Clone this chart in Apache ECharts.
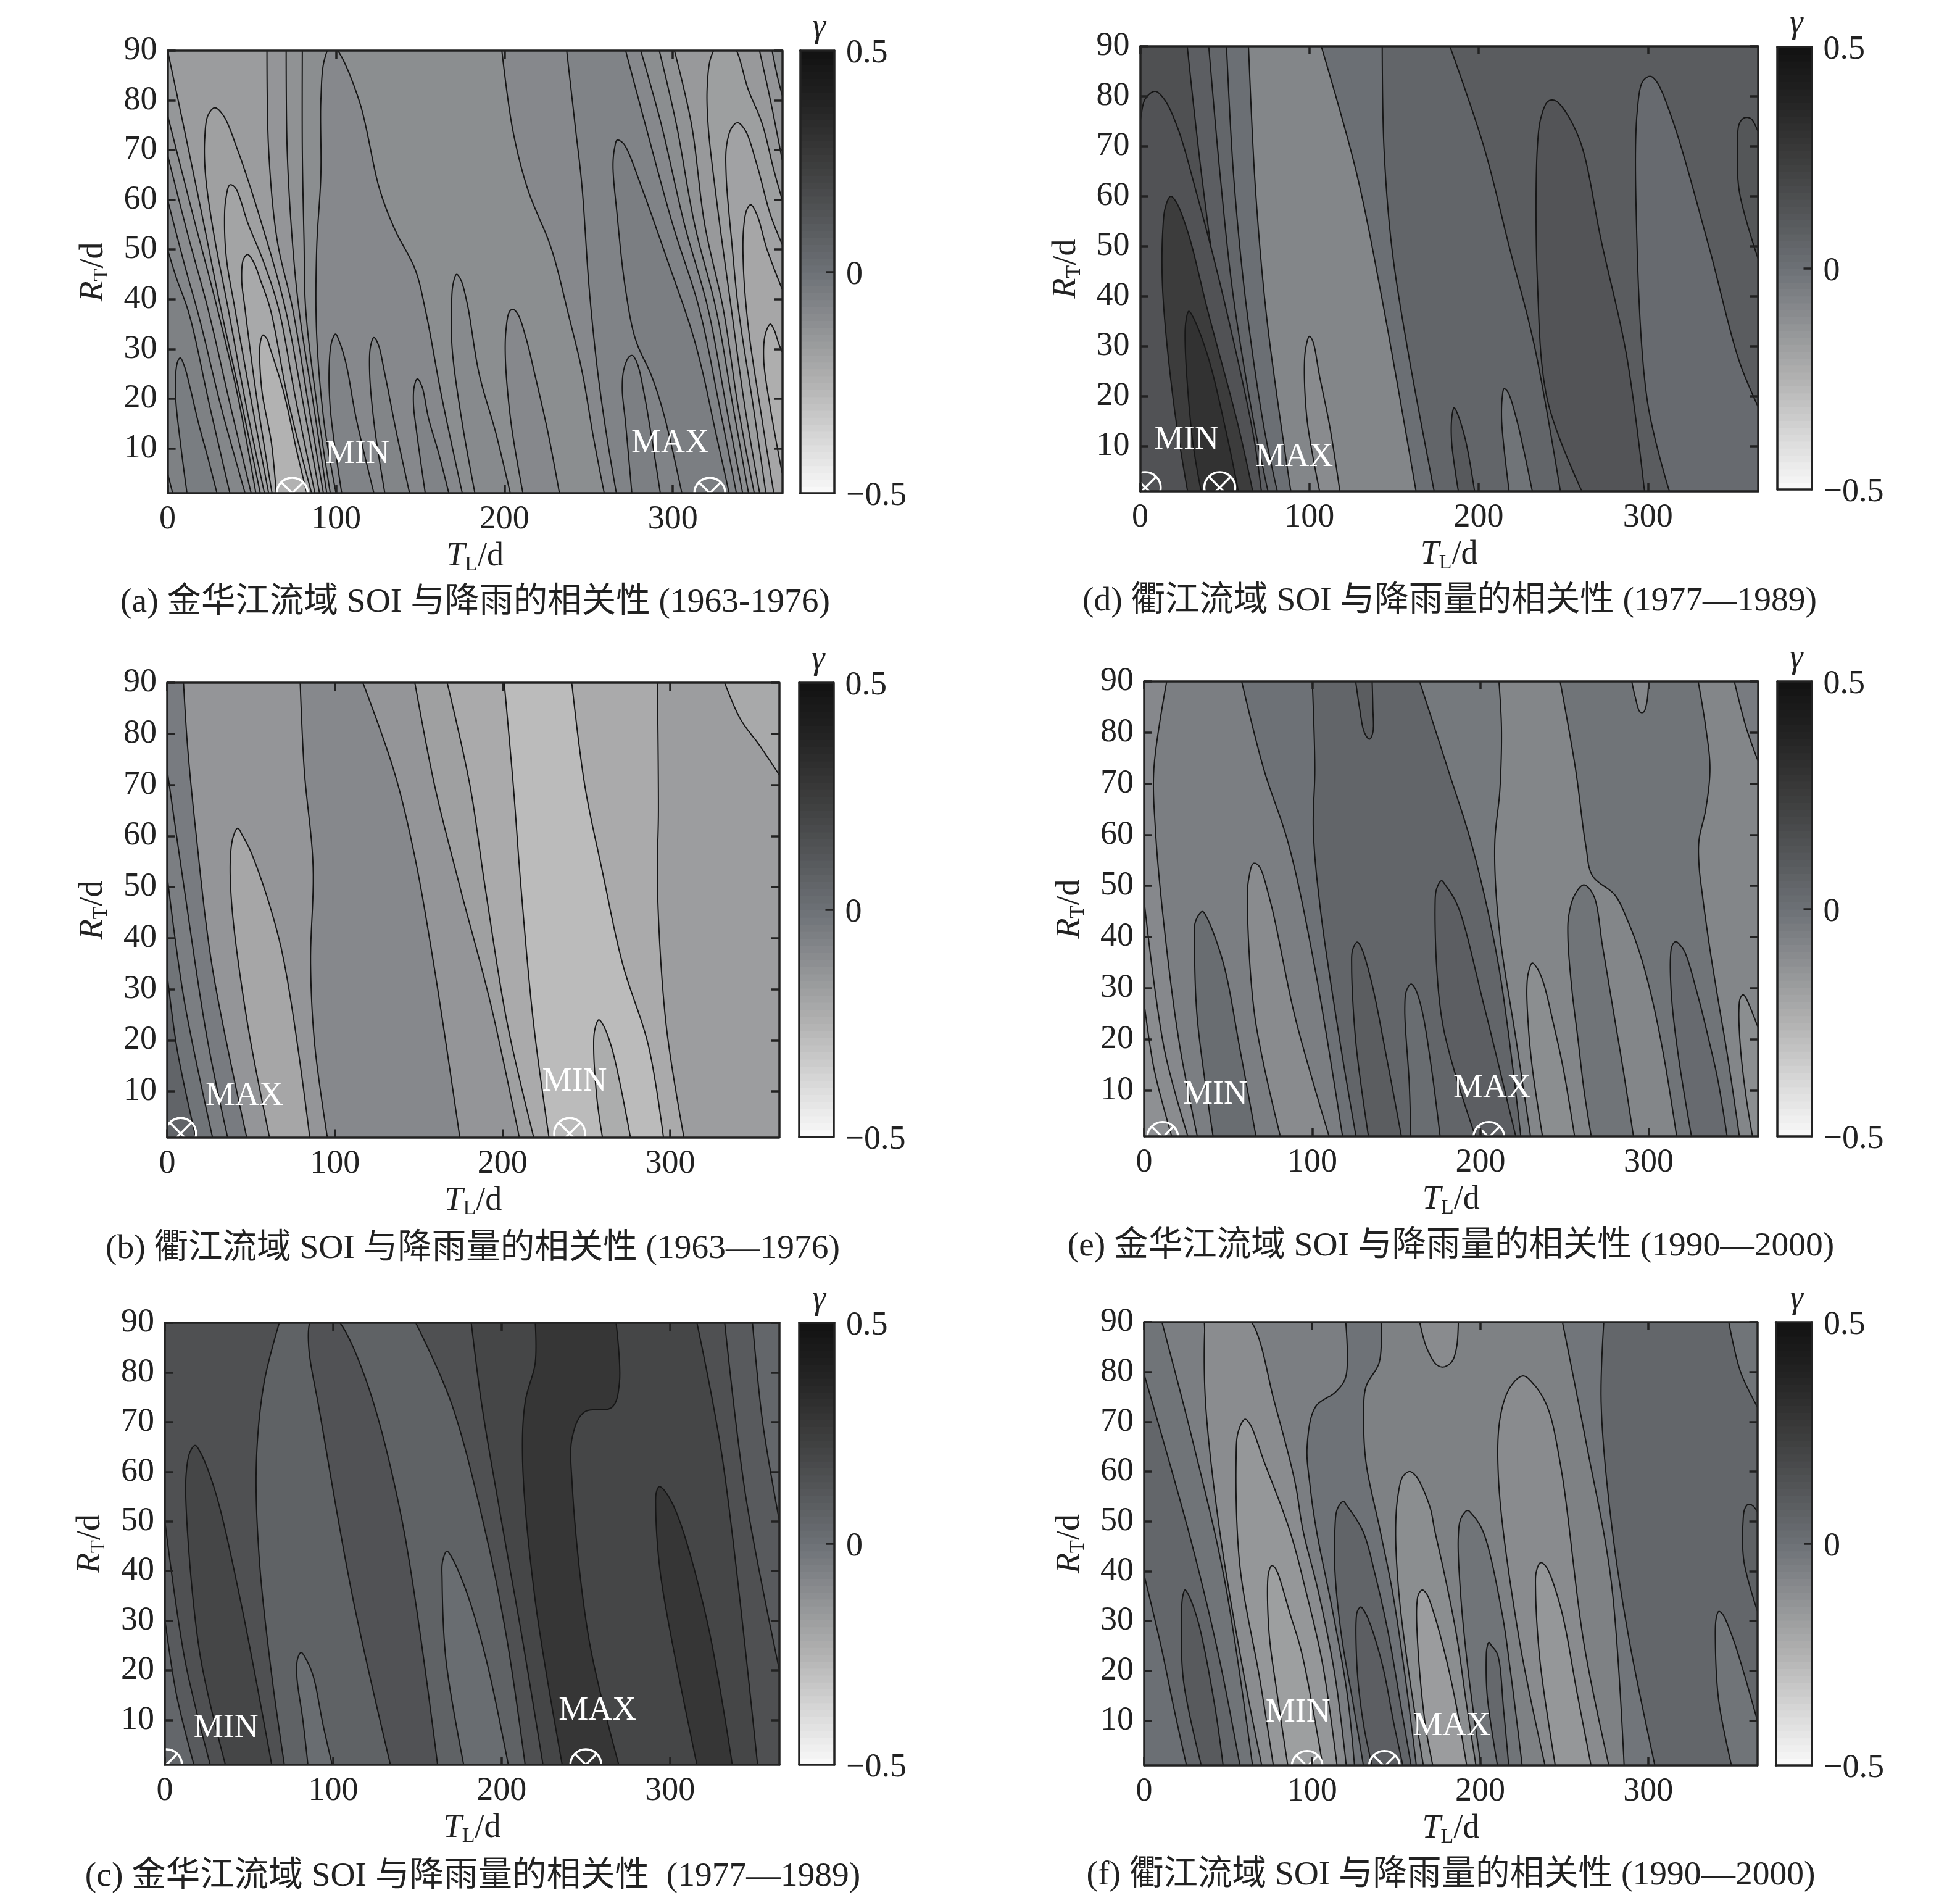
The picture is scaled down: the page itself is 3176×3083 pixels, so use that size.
<!DOCTYPE html>
<html><head><meta charset="utf-8">
<style>html,body{margin:0;padding:0;background:#fff}#c{width:3176px;height:3083px}</style>
<script src="https://cdn.jsdelivr.net/npm/echarts@6/dist/echarts.min.js"></script>
</head><body><div id="c"></div>
<script>
// ---------- shared values ----------
const xTicks=[0,100,200,300];
const yTicks=[10,20,30,40,50,60,70,80,90];
const cbTicks=[-0.5,0,0.5];
const cbGamma=[-0.5,-0.375,-0.25,-0.125,0,0.125,0.25,0.375,0.5];
const cbGray=[250,215,178,145,112,85,60,36,18];

// every curve: [gamma on its far side, [[T_L,R_T],...]]
// ---------- (a) ----------
const baseA=-0.06;
const sweepA=[
[-0.085,[[0,50],[5,44.5],[12.8,37],[25,18.5],[37,1]]],
[-0.105,[[0,60],[10,47],[19,36],[32,18],[46,1]]],
[-0.125,[[0,69],[12,53],[24,38],[37,19],[49.6,1]]],
[-0.145,[[0,77],[15,57],[29.6,38],[42,20],[52.4,1]]],
[-0.165,[[0,90],[10,74],[21,56],[31.7,38],[44,19],[55,1]]],
[-0.14,[[59,90],[60,70],[65,52],[74.3,38],[84,18],[92.5,1]]],
[-0.125,[[70.4,90],[71,70],[74,52],[78,38],[87,18],[94.5,1]]],
[-0.11,[[80,90],[80,70],[81,52],[82,38],[89,18],[96.6,1]]],
[-0.09,[[198.5,90],[205,74],[214,62],[226,52],[230.2,47.6],[238,37],[246,25.7],[253,12],[259.3,1]]],
[-0.07,[[237,90],[242,75],[246,63],[250.4,42],[255.3,25.7],[261,12],[266.5,1]]],
[-0.09,[[272,90],[283.5,75.4],[300,55],[315.8,38],[328,18],[337.8,1]]],
[-0.11,[[281,90],[293,75.4],[307,55],[321,38],[332,18],[341.5,1]]],
[-0.13,[[292,90],[302,75.4],[313,55],[325.7,38],[336,18],[345,1]]],
[-0.155,[[301,90],[311,75.4],[319,55],[330,38],[339,18],[348.4,1]]],
[-0.14,[[351.5,90],[358,80],[365,68]]],
[-0.11,[[359,90],[362,85],[365,81]]]
];
const archA=[
[-0.075,[[0,5],[1.5,3],[3,1]]],
[-0.045,[[11.5,1],[8,10],[4.8,20],[4.8,25],[6,27.5],[7.5,28.2],[10,26.5],[13.5,22],[18.4,15],[24,8],[29.3,1]]],
[-0.18,[[57.5,1],[47,18],[36,38],[27,54],[22.5,65],[22,72],[24,77],[28,78.5],[33,77],[41.6,70],[56.4,54.6],[70,38],[80,20],[90.2,1]]],
[-0.195,[[60,1],[50,19],[40,38],[35,48],[33.8,55],[34.5,60],[37,63],[40,62.5],[48,55],[57,47.5],[66,38],[76,20],[87.5,1]]],
[-0.215,[[62,1],[53,20],[46,38],[44,44],[45,48],[47.5,49],[51,47.5],[55.5,43.5],[61,38],[72,19],[85.5,1]]],
[-0.25,[[64.5,1],[61.7,11],[56,21.6],[54.7,29.9],[55.5,32],[56.6,32.8],[59,32],[61,30],[68.7,21.6],[77,9],[82.7,1]]],
[-0.09,[[100,1],[93,15],[88.5,33],[88.5,50],[91,65],[91,80],[93,88],[97,91],[101,90],[113.7,80],[126,62],[135,54],[147,46],[153,38],[163,20],[175,1]]],
[-0.07,[[103.4,1],[96.6,18],[96,27],[97.5,31.5],[99.7,33],[102,31.5],[106,27],[112,16],[122.5,1]]],
[-0.075,[[129,1],[123,14],[120,25],[120.5,30.5],[122.5,32.3],[125,31],[129,25],[136,13],[143.7,1]]],
[-0.07,[[153,1],[148,13],[146,19],[146.5,22.5],[148.3,24],[151,22.5],[155,16],[161,9],[167,1]]],
[-0.095,[[182.5,1],[175,15],[169,30],[168.6,38],[169.5,43],[171.6,45],[174,44],[178,39],[185,25],[195,13],[203.5,1]]],
[-0.09,[[211,1],[204,15],[200.6,28],[201,34],[203,37.5],[205,38],[208,37],[213,32],[218,25],[226,13],[232.7,1]]],
[-0.055,[[275.7,1],[272,15],[270,22],[271,26],[274,28.4],[276,28.7],[279,27],[283,21],[288,11],[292.6,1]]],
[-0.05,[[305.4,1],[295,16.5],[287.5,24.5],[277.9,31.9],[271.8,42.3],[267,56.8],[264.5,67],[265.5,70.5],[266.9,72],[269,71.8],[271.8,70.8],[282.8,61.3],[297.5,47.2],[310.9,34],[317.5,25.7],[325,14],[333.5,1]]],
[-0.175,[[351.6,1],[343,18],[334.8,38],[326,60],[321,75],[320.5,83],[323,89],[329,92],[336,91],[345,82],[353,75.4],[360,66],[365,60]]],
[-0.19,[[355.3,1],[348,18],[339,38],[335.3,50.5],[331.7,65],[332,71],[335,74.5],[338.5,75.5],[343,74],[350,67],[358,57],[365,51]]],
[-0.205,[[360,1],[352,18],[345,34],[342,46],[342,54],[344,58],[346.3,59],[350,57],[356,50],[365,42]]],
[-0.235,[[365,5],[358,18],[354,28],[355,33],[357.9,35],[360,34],[363,31],[365,29.4]]]
];
const ringsA=[[74,1],[322,1]];
const wordsA=[['MIN',112.8,8.8],['MAX',298.5,11]];

// ---------- (d) ----------
const baseD=-0.125;
const sweepD=[
[-0.07,[[0,5],[2,3],[3.6,1]]],
[-0.02,[[0,25],[4,12],[8.5,1]]],
[0.04,[[0,40],[6,20],[12.7,1]]],
[0.095,[[0,49],[8,24],[16.5,1]]],
[0.15,[[0,64],[10,34],[18,14],[24,1]]],
[0.085,[[27.8,90],[36,65],[47,38],[60,15],[71.6,1]]],
[0.05,[[40.5,90],[47,65],[55,40],[67,15],[75.5,1]]],
[0.01,[[51,90],[55,65],[62,40],[73,14],[81,1]]],
[-0.08,[[64,90],[68,62],[75,35],[89,1]]],
[0.01,[[107,90],[127.6,65],[142.6,40],[163,1]]],
[0.055,[[143,90],[144,70],[148.6,50],[157.7,30],[173.7,1]]],
[0.095,[[183,90],[203,70],[218,50],[233,30],[248.3,1]]]
];
const archD=[
[0.14,[[0,75],[0.5,76],[3,79.5],[8.8,81],[14,79.5],[21.8,74],[33.8,60],[49,40],[67,12],[71.6,1]]],
[0.25,[[28,1],[20,18],[13.3,41],[13.3,53],[15,58],[18,60],[21,59],[28,53],[40,37],[58,14],[66.5,1]]],
[0.30,[[36,1],[31,11],[26.6,30],[27,35],[28.7,37],[31,36],[40,28],[52,11],[58,1]]],
[-0.10,[[106,1],[98.7,15],[97,26],[98,30],[100,32],[102,31],[106,24],[112,14],[118,1]]],
[0.11,[[188,1],[184,11],[184.2,16],[185.5,17.7],[187.5,16.5],[192.4,11],[197.6,1]]],
[-0.01,[[218,1],[213.6,15],[214,20],[215,21.5],[217,21],[222.7,15],[231.7,1]]],
[0.13,[[261,1],[240.8,19],[234.7,43],[234.7,70],[237,76],[241,79],[244.7,79.2],[249,78],[260,71],[272.5,51],[287.5,28],[298,1]]],
[0.03,[[312.7,1],[299.7,19],[293,58],[293.7,77],[297,83],[301.3,84],[305,83],[314.8,75],[336,50],[354,27],[365,18]]],
[0.125,[[365,47.6],[354,61],[353,70],[354,74.5],[357,75.7],[361,75.5],[365,73]]]
];
const ringsD=[[3,1.75],[47,1.75]];
const wordsD=[['MIN',27.3,11.3],['MAX',91,7.8]];

// ---------- (b) ----------
const baseB=0.06;
const sweepB=[
[-0.01,[[0,32.7],[6,18],[17,1]]],
[-0.05,[[0,52],[10,28],[27,1]]],
[-0.04,[[0,72.8],[10,50],[24,20],[36,1]]],
[-0.14,[[9.7,90],[12,78],[17,61],[27,34],[47.4,1]]],
[-0.09,[[79.3,90],[81.7,73],[87,54],[85.5,35],[88,19],[95.5,1]]],
[-0.14,[[116.7,90],[135,73],[147,57],[159.4,34],[174.5,1]]],
[-0.18,[[147.7,90],[159.4,70],[174.6,50],[193,27],[210,1]]],
[-0.22,[[167,90],[180.5,70],[189.6,50],[203,23],[218.6,1]]],
[-0.28,[[201,90],[206.4,70],[211,50],[218.6,23],[227.7,1]]],
[-0.22,[[241.3,90],[249,70],[259.6,53],[271.6,35],[287,19],[296,1]]],
[-0.17,[[292.4,90],[293,65],[292.4,50],[297.6,23],[308.2,1]]],
[-0.215,[[332.5,90],[341.7,83],[353.8,77.5],[365,72]]]
];
const archB=[
[-0.205,[[61,1],[48,23],[38.6,46],[37.7,56],[39.5,60],[42,61.5],[45,60],[51,56],[68,38],[85,1]]],
[-0.23,[[259.6,1],[256.5,8],[254.4,18],[255,22],[257.4,24],[260,23],[265.6,18],[276.3,1]]]
];
const ringsB=[[8,1.75],[240,1.75]];
const wordsB=[['MAX',46,9],['MIN',243,11.8]];

// ---------- (e) ----------
const baseE=-0.12;
const sweepE=[
[-0.105,[[0,27],[6,14],[16.4,1]]],
[-0.09,[[0,47],[12,18],[26,1]]],
[-0.05,[[13.4,90],[5.8,73],[6.7,61],[11.9,42],[21,19],[31.6,1]]],
[0.0,[[58,90],[71,73],[86,58],[101.5,34],[118,1]]],
[0.055,[[100,90],[101.5,73],[100.6,61],[104.6,46],[116.7,19],[126,1]]],
[-0.03,[[163.8,90],[180.5,73],[195.7,57],[211,34],[224,1]]],
[-0.08,[[211,90],[212.5,81],[211.6,69],[208.5,58],[211,42],[221.6,19],[229.8,1]]],
[-0.01,[[247.4,90],[256.5,73],[262.6,58],[266.6,52],[280,48.2],[287.3,43.4],[294.7,36.9],[302,28],[309.4,16],[316.7,1]]],
[-0.08,[[329.5,90],[334,81],[336.5,73],[334,65],[330,59],[330,54],[332,48.2],[336.3,38],[341.2,28],[347.3,16],[354,1]]],
[-0.04,[[351,90],[358,81],[365,74.5]]]
];
const archE=[
[0.02,[[41,1],[31.6,24],[30,38],[30.5,43],[34.6,45],[37,44],[47,35],[57,18],[66.5,1]]],
[-0.10,[[81,1],[66,24],[61.4,46],[62,51],[65,54.4],[68,54],[75,47],[90,24],[110,1]]],
[0.09,[[133.4,1],[126,19],[123.4,34],[124,37.5],[126.7,39],[129,38],[135,31.5],[145,15],[153,1]]],
[0.02,[[158.6,1],[157.7,11],[155,26],[156,29.5],[158.7,30.8],[161,30],[165,26],[171,14],[176,1]]],
[0.085,[[197,1],[177.5,23],[173,46],[174,49.5],[176.8,51],[179.5,50],[186.6,46],[201.8,27],[221,1]]],
[0.09,[[125.8,90],[128,85],[131,80],[134,78.7],[136,80],[136,85],[135.6,90]]],
[-0.11,[[236.9,1],[231,14],[228.6,22],[227.6,30],[228.5,33],[230.8,34.9],[233.5,34],[237.2,31.3],[243.3,23.2],[249.4,14],[256,1]]],
[-0.01,[[265.9,1],[261.6,10],[258,20],[254.3,30],[252,40],[252.5,44.2],[256,48.2],[261.5,50.2],[267.2,48.2],[272.7,38],[278.8,26],[284.9,14],[291,1]]],
[0.03,[[325.5,1],[318,16],[313.7,28],[313,36],[314,38.3],[316.1,39.1],[318.5,38.5],[321.6,37],[329,28.9],[336.3,19.2],[341.2,12],[346.7,1]]],
[-0.11,[[361.8,1],[358.3,8],[354.7,18],[353.7,25.7],[354.5,28],[356.1,28.7],[357.5,28.3],[359.6,26.9],[365,22.4]]],
[-0.085,[[290,90],[292,87],[295,84],[297,84],[299,86],[300,90]]]
];
const ringsE=[[11,0.8],[205,0.8]];
const wordsE=[['MIN',42.4,9.1],['MAX',207,10.3]];

// ---------- (c) ----------
const baseC=0.05;
const sweepC=[
[0.105,[[0,30.4],[7,15],[17.3,1]]],
[0.15,[[0,50.2],[12,22],[27,1]]],
[0.07,[[68,90],[59,78],[54.4,62],[56,43],[63.5,19],[71,1]]],
[0.15,[[149,90],[170,74],[191,47],[203.3,26],[214,1]]],
[0.20,[[182,90],[188,74],[200,50],[212.5,26],[224.6,1]]],
[0.28,[[220,90],[220,82],[214,74],[212.5,62],[220,34],[236,1]]],
[0.20,[[268,90],[270,78],[265.6,73],[249,72],[242,67],[242,57],[252,26],[269.6,1]]],
[0.15,[[316,90],[331,63],[352,1]]],
[0.105,[[332.5,90],[345,55],[365,20]]],
[0.05,[[349,90],[355,70],[365,50]]]
];
const archC=[
[0.20,[[36,1],[21,23],[12.8,52],[12.8,60],[15,64],[18,65.3],[21,64],[30,56],[45,34],[63.5,1]]],
[0.02,[[85,1],[82,10],[78.4,19],[79,22.5],[81,23.6],[83.5,22.5],[88,19],[94,9],[99.4,1]]],
[0.14,[[134,1],[112,34],[92,72],[85.5,85],[86,90],[90,93],[97,92],[104,90],[120,78],[141,50],[162,1]]],
[0.02,[[177.5,1],[167,22],[164.7,38],[165,42],[167.5,44],[170,43],[179,36],[191,22],[204,1]]],
[0.28,[[316,1],[294.5,39],[291.5,53],[292,56],[293.6,57],[296,56.5],[303.6,52],[322,30],[337,1]]]
];
const ringsC=[[1,1],[250,1]];
const wordsC=[['MIN',36.4,8.3],['MAX',257,11.8]];

// ---------- (f) ----------
const baseF=0.01;
const sweepF=[
[0.05,[[0,39.2],[10,25],[18,12],[25.2,1]]],
[-0.01,[[0,79.5],[28,46],[45,22],[57,1]]],
[-0.05,[[10.6,90],[29,66],[48,38],[64.5,1]]],
[-0.005,[[120,90],[120,79],[114,76],[102,73],[97,65],[98.8,57],[102.6,48.1],[112.4,31.6],[121,15],[125.2,1]]],
[-0.06,[[141,90],[140,82],[132,77],[130.7,71],[132,62],[140.5,48.1],[147.9,35.7],[155.2,19.2],[162,1]]],
[-0.015,[[249,90],[263,66],[278,38],[285.7,1]]],
[0.05,[[273.6,90],[272,74],[278,50],[288.8,26],[304,1]]],
[-0.01,[[348,90],[355,80],[365,73]]]
];
const archF=[
[0.105,[[34,1],[23.4,18],[22.2,31],[23,35],[24.3,36.2],[26,35.5],[32,30],[42,13],[47,1]]],
[-0.105,[[70,1],[60,18],[45,48],[36.5,74],[36,88],[37,92],[50,94],[64,90],[77.5,74],[89.7,58],[94.6,48.1],[103.8,35.7],[113.6,19],[120.3,1]]],
[-0.145,[[76.9,1],[69,18],[57,41],[54.7,62],[56,68],[60,70.5],[63,69.5],[71.4,62],[86.7,48.1],[96.5,35.7],[106.3,21.2],[114.8,1]]],
[-0.175,[[85.5,1],[79.3,15],[74.4,27.4],[73.5,37.8],[74.3,40],[75.9,41.1],[77.5,40.8],[79.3,39.8],[86.7,31.6],[94,23.3],[106.3,1]]],
[0.06,[[130.5,1],[124.6,13],[117.3,27.4],[113.6,39.8],[113.5,48.1],[115,52.5],[118.5,54],[121,53],[130.1,48.1],[138,38.6],[145.4,27.4],[152.8,13],[158.9,1]]],
[0.085,[[135.6,1],[130.8,8.8],[127,19.2],[126.2,30.3],[127,32],[128.9,32.8],[131,32],[134.4,29.5],[141.8,21.2],[149,8.8],[154,1]]],
[-0.11,[[166.2,1],[157.7,19.2],[151.6,35.7],[149.7,48.1],[151,55],[154,59],[158,60],[162,59],[170,53],[173,48.1],[178.5,39.8],[185.8,27.4],[192,13],[197.5,1]]],
[-0.165,[[171.8,1],[167.5,8.8],[163.2,23.3],[162.3,33.2],[163.5,35.5],[165.6,36.2],[168,35.5],[172.4,31.6],[179.7,22.5],[185.8,13],[192,1]]],
[-0.10,[[164,90],[168,85],[174,81.5],[178,81],[183,82],[186,85],[187,90]]],
[-0.01,[[200.5,1],[193.2,19],[188.3,35.7],[187,47],[188.5,50.5],[192.4,52.2],[195,51.5],[201.7,48],[212.8,32],[218,20],[225,1]]],
[0.04,[[210.3,1],[204.2,15],[203.6,22.5],[204,24.5],[205.2,25.7],[206.8,25],[210.3,23.3],[214,12],[217,1]]],
[-0.10,[[238.6,1],[223.4,26],[211,58],[212,71],[218,77],[225.5,79.2],[232,77.5],[240,73],[248,61],[262,25],[276.6,1]]],
[-0.145,[[244.7,1],[235.6,22],[233,36],[233.5,40],[236,41.7],[239,41],[247.7,33],[258,15],[266,1]]],
[-0.01,[[349.6,1],[342,14],[340,26],[340.5,30.5],[342,31.9],[344,31.5],[351,26],[365,10]]],
[0.075,[[365,32],[357,42],[356.5,50],[357.5,52.5],[359.5,53.4],[362,53.2],[365,52]]]
];
const ringsF=[[97,0.8],[143,0.8]];
const wordsF=[['MIN',91.6,11.5],['MAX',183,8.8]];

const captions=[
'(a) 金华江流域 SOI 与降雨的相关性 (1963-1976)',
'(b) 衢江流域 SOI 与降雨量的相关性 (1963—1976)',
'(c) 金华江流域 SOI 与降雨量的相关性  (1977—1989)',
'(d) 衢江流域 SOI 与降雨量的相关性 (1977—1989)',
'(e) 金华江流域 SOI 与降雨量的相关性 (1990—2000)',
'(f) 衢江流域 SOI 与降雨量的相关性 (1990—2000)'
];

// ---------- layout ----------
const layout=[
 {base:baseA,sweep:sweepA,arch:archA,rings:ringsA,words:wordsA,cap:0,g:[271.6,1267.5,82,799],cb:[1296.5,1352,82,799],c:[770,976]},
 {base:baseB,sweep:sweepB,arch:archB,rings:ringsB,words:wordsB,cap:1,g:[271,1262.5,1106,1842.5],cb:[1295,1350.5,1106,1842],c:[766,2023]},
 {base:baseC,sweep:sweepC,arch:archC,rings:ringsC,words:wordsC,cap:2,g:[267,1263,2143,2859],cb:[1295,1352,2143,2859],c:[766,3040]},
 {base:baseD,sweep:sweepD,arch:archD,rings:ringsD,words:wordsD,cap:3,g:[1847.6,2848.5,75,796],cb:[2880,2935.5,76,793],c:[2349,974]},
 {base:baseE,sweep:sweepE,arch:archE,rings:ringsE,words:wordsE,cap:4,g:[1854,2848.5,1104,1841],cb:[2880,2935.5,1104,1841],c:[2351,2019]},
 {base:baseF,sweep:sweepF,arch:archF,rings:ringsF,words:wordsF,cap:5,g:[1854,2847.6,2142,2860],cb:[2877.5,2936,2142,2860],c:[2351,3038]}
];
const SERIF='"Liberation Serif","Noto Sans CJK SC",serif';
const INK='#222';

function grayOf(v){
  v=Math.max(-0.5,Math.min(0.5,v));
  let i=0; while(i<cbGamma.length-2&&v>cbGamma[i+1])i++;
  const t=(v-cbGamma[i])/(cbGamma[i+1]-cbGamma[i]);
  const g=cbGray[i]+t*(cbGray[i+1]-cbGray[i]);
  const tint=Math.max(0,1-Math.abs(v)/0.25);
  return 'rgb('+Math.round(g-3*tint)+','+Math.round(g+1*tint)+','+Math.round(g+6*tint)+')';
}
// drawing only: centripetal spline through the read points, in pixel space
function spline(P){
  if(P.length<3)return P;
  const out=[P[0]],n=P.length;
  for(let i=0;i<n-1;i++){
    const p0=P[i>0?i-1:0],p1=P[i],p2=P[i+1],p3=P[i+2<n?i+2:n-1];
    const d=(a,b)=>Math.max(1e-3,Math.sqrt(Math.hypot(a[0]-b[0],a[1]-b[1])));
    const t0=0,t1=t0+d(p0,p1),t2=t1+d(p1,p2),t3=t2+d(p2,p3);
    for(let k=1;k<=12;k++){
      const t=t1+(t2-t1)*k/12, L=(a,b,ta,tb)=>[a[0]+(b[0]-a[0])*(t-ta)/(tb-ta),a[1]+(b[1]-a[1])*(t-ta)/(tb-ta)];
      const A1=L(p0,p1,t0,t1),A2=L(p1,p2,t1,t2),A3=L(p2,p3,t2,t3);
      const B1=L(A1,A2,t0,t2),B2=L(A2,A3,t1,t3);
      out.push(L(B1,B2,t1,t2));
    }
  }
  return out;
}
function contourSeries(p,idx){
  const items=[{kind:'base',v:p.base,pts:[]}];
  p.sweep.forEach(s=>items.push({kind:'sweep',v:s[0],pts:s[1]}));
  p.arch.forEach(s=>items.push({kind:'arch',v:s[0],pts:s[1]}));
  return {type:'custom',coordinateSystem:'cartesian2d',xAxisIndex:idx*4,yAxisIndex:idx*4,clip:true,z:2,silent:true,
    data:items.map((_,i)=>[i]),
    renderItem(params,api){
      const it=items[params.dataIndex];
      const stroke={stroke:'#161616',lineWidth:2,fill:null};
      if(it.kind==='base'){
        const q=[[0,1],[365,1],[365,90],[0,90]].map(c=>api.coord(c));
        return {type:'polygon',shape:{points:q},style:{fill:grayOf(it.v)}};
      }
      const curve=spline(it.pts.map(c=>api.coord(c)));
      const ext=[];
      const first=it.pts[0],last=it.pts[it.pts.length-1];
      if(it.kind==='sweep'){
        if(last[1]<=1)ext.push([365,1]);
        ext.push([365,90]);
        if(first[0]===0&&first[1]<90)ext.push([0,90]);
      }else{
        if(last[0]>=365&&last[1]>1&&first[1]<=1)ext.push([365,1]);
        if(first[0]===0&&last[1]<=1)ext.push([0,1]);
      }
      const poly=curve.concat(ext.map(c=>api.coord(c)));
      return {type:'group',children:[
        {type:'polygon',shape:{points:poly},style:{fill:grayOf(it.v)}},
        {type:'polyline',shape:{points:curve},style:stroke}
      ]};
    }};
}
function markSeries(p,idx){
  const items=p.rings.map(r=>({ring:r})).concat(p.words.map(w=>({word:w})));
  return {type:'custom',coordinateSystem:'cartesian2d',xAxisIndex:idx*4,yAxisIndex:idx*4,clip:true,z:3,silent:true,
    data:items.map((_,i)=>[i]),
    renderItem(params,api){
      const it=items[params.dataIndex];
      if(it.word){
        const c=api.coord([it.word[1],it.word[2]]);
        return {type:'text',style:{x:c[0],y:c[1],text:it.word[0],fill:'#fff',font:'54px "Liberation Serif"',align:'center',verticalAlign:'middle'}};
      }
      const c=api.coord(it.ring),R=25,r=R*0.72;
      const st={stroke:'#fff',lineWidth:3.4,fill:null};
      return {type:'group',children:[
        {type:'circle',shape:{cx:c[0],cy:c[1],r:R},style:st},
        {type:'line',shape:{x1:c[0]-r,y1:c[1]-r,x2:c[0]+r,y2:c[1]+r},style:st},
        {type:'line',shape:{x1:c[0]+r,y1:c[1]-r,x2:c[0]-r,y2:c[1]+r},style:st}
      ]};
    }};
}
function colorbarSeries(idx){
  const n=64;
  const data=[];for(let i=0;i<n;i++)data.push([i]);
  return {type:'custom',coordinateSystem:'cartesian2d',xAxisIndex:idx*4+2,yAxisIndex:idx*4+2,clip:true,z:2,silent:true,data,
    renderItem(params,api){
      const i=params.dataIndex;
      const lo=-0.5+i/n, hi=-0.5+(i+1)/n;
      const a=api.coord([0,lo]),b=api.coord([1,hi]);
      return {type:'rect',shape:{x:a[0],y:b[1],width:b[0]-a[0],height:a[1]-b[1]+1},style:{fill:grayOf((lo+hi)/2)}};
    }};
}
const grids=[],xAxes=[],yAxes=[],series=[],titles=[];
const lineSt={show:true,onZero:false,lineStyle:{color:INK,width:3.5}};
const tickIn=(vals)=>({show:true,inside:true,length:13,customValues:vals,lineStyle:{color:INK,width:3.5}});
const rich={i:{fontStyle:'italic',fontFamily:'"Liberation Serif"',fontSize:54,color:INK},
            s:{fontFamily:'"Liberation Serif"',fontSize:34,color:INK,padding:[26,0,0,0]},
            n:{fontFamily:'"Liberation Serif"',fontSize:54,color:INK}};
layout.forEach((p,i)=>{
  grids.push({left:p.g[0],width:p.g[1]-p.g[0],top:p.g[2],height:p.g[3]-p.g[2]});
  grids.push({left:p.cb[0],width:p.cb[1]-p.cb[0],top:p.cb[2],height:p.cb[3]-p.cb[2]});
  const g=i*2;
  xAxes.push({gridIndex:g,type:'value',min:0,max:365,position:'bottom',z:10,axisLine:lineSt,axisTick:tickIn(xTicks),
    splitLine:{show:false},axisLabel:{customValues:xTicks,fontFamily:SERIF,fontSize:54,color:INK,margin:16},
    name:'{i|T}{s|L}{n|/d}',nameLocation:'middle',nameGap:73,nameTextStyle:{rich}});
  xAxes.push({gridIndex:g,type:'value',min:0,max:365,position:'top',z:10,axisLine:lineSt,axisTick:tickIn(xTicks),splitLine:{show:false},axisLabel:{show:false}});
  xAxes.push({gridIndex:g+1,type:'value',min:0,max:1,position:'bottom',z:10,axisLine:lineSt,axisTick:{show:false},splitLine:{show:false},axisLabel:{show:false}});
  xAxes.push({gridIndex:g+1,type:'value',min:0,max:1,position:'top',z:10,axisLine:lineSt,axisTick:{show:false},splitLine:{show:false},axisLabel:{show:false}});
  yAxes.push({gridIndex:g,type:'value',min:1,max:90,position:'left',z:10,axisLine:lineSt,axisTick:tickIn(yTicks),
    splitLine:{show:false},axisLabel:{customValues:yTicks,fontFamily:SERIF,fontSize:54,color:INK,margin:17},
    name:'{i|R}{s|T}{n|/d}',nameLocation:'middle',nameRotate:90,nameGap:90,nameTextStyle:{rich}});
  yAxes.push({gridIndex:g,type:'value',min:1,max:90,position:'right',z:10,axisLine:lineSt,axisTick:tickIn(yTicks),splitLine:{show:false},axisLabel:{show:false}});
  yAxes.push({gridIndex:g+1,type:'value',min:-0.5,max:0.5,position:'right',z:10,axisLine:lineSt,axisTick:tickIn([0]),splitLine:{show:false},
    axisLabel:{customValues:cbTicks,color:INK,margin:19,formatter:v=>'{t|'+(v<0?'\u2212'+Math.abs(v):String(v))+'}',
      rich:{t:{fontFamily:SERIF,fontSize:54,color:INK,padding:[10,0,0,0]}}},
    name:'γ',nameLocation:'end',nameRotate:0,nameGap:10,nameTextStyle:{fontFamily:SERIF,fontStyle:'italic',fontSize:54,color:INK,align:'right',padding:[0,14,0,0]}});
  yAxes.push({gridIndex:g+1,type:'value',min:-0.5,max:0.5,position:'left',z:10,axisLine:lineSt,axisTick:{show:false},splitLine:{show:false},axisLabel:{show:false}});
  series.push(contourSeries(p,i),markSeries(p,i),colorbarSeries(i));
  titles.push({text:captions[p.cap],left:p.c[0],top:p.c[1],textAlign:'center',textVerticalAlign:'middle',padding:0,
    textStyle:{fontFamily:SERIF,fontWeight:'normal',fontSize:55.5,color:INK}});
});
const chart=echarts.init(document.getElementById('c'),null,{renderer:'canvas',width:3176,height:3083});
chart.setOption({animation:false,backgroundColor:'#fff',title:titles,grid:grids,xAxis:xAxes,yAxis:yAxes,series});
</script></body></html>
